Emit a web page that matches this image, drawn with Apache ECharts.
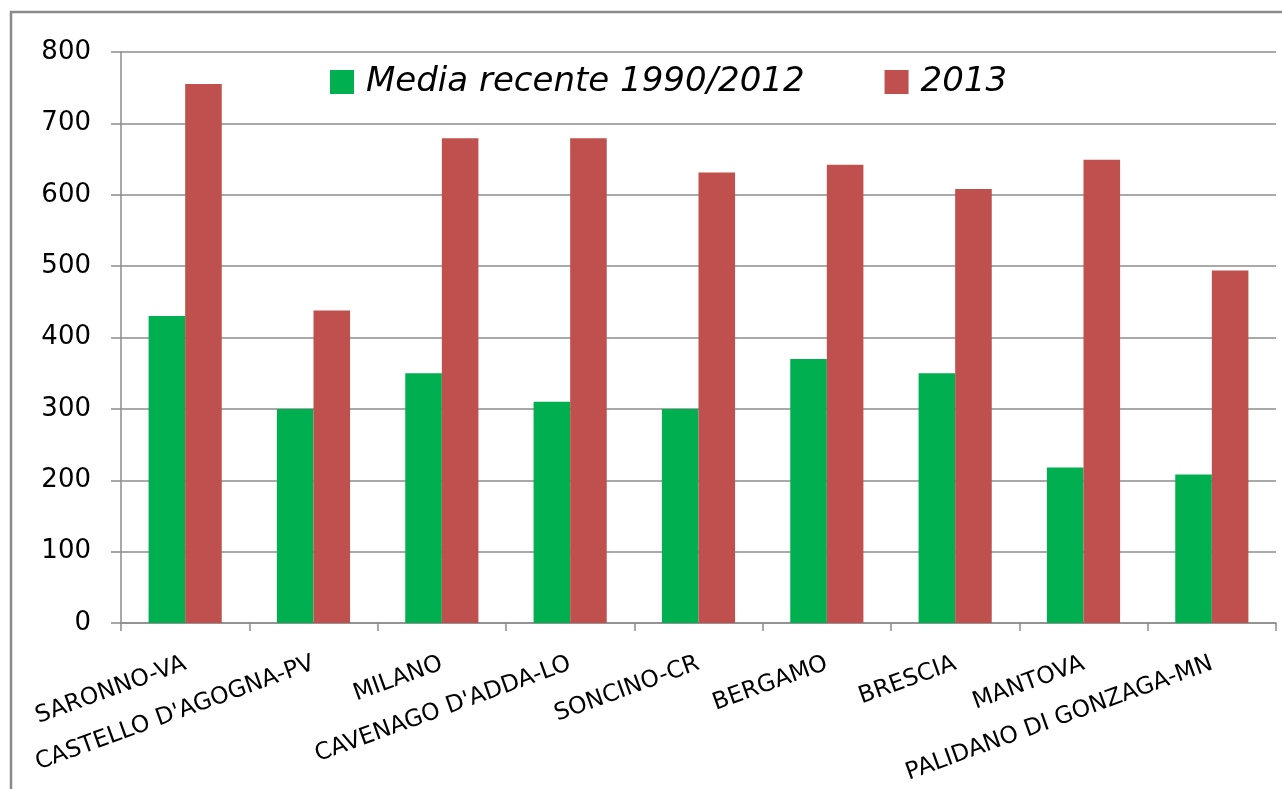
<!DOCTYPE html>
<html>
<head>
<meta charset="utf-8">
<script src="https://cdn.jsdelivr.net/npm/echarts@6/dist/echarts.min.js"></script>
<style>
html,body{margin:0;padding:0;background:#fff;}
#main{width:1282px;height:789px;}
</style>
</head>
<body>
<div id="main"></div>
<script>
const categories = ["SARONNO-VA","CASTELLO D'AGOGNA-PV","MILANO","CAVENAGO D'ADDA-LO","SONCINO-CR","BERGAMO","BRESCIA","MANTOVA","PALIDANO DI GONZAGA-MN"];
const seriesNames = ["Media recente 1990/2012","2013"];
const mediaValues = [430, 300, 350, 310, 300, 370, 350, 218, 208];
const values2013 = [755, 438, 679, 679, 631, 642, 608, 649, 494];

const chart = echarts.init(document.getElementById('main'));
const gray = '#8c8c8c';
chart.setOption({
  backgroundColor: '#ffffff',
  animation: false,
  graphic: [{
    type: 'rect',
    z: -1,
    shape: {x: 11, y: 12, width: 1400, height: 900},
    style: {fill: 'none', stroke: '#8a8a8a', lineWidth: 2.5}
  }],
  legend: {
    data: seriesNames,
    left: 325,
    top: 60,
    itemWidth: 24,
    itemHeight: 24,
    itemGap: 80,
    icon: 'rect',
    textStyle: {fontFamily: 'DejaVu Sans', fontStyle: 'italic', fontSize: 34, color: '#000', padding: [0,0,0,7]}
  },
  grid: {left: 121, right: 6, top: 52, bottom: 166, containLabel: false},
  xAxis: {
    type: 'category',
    data: categories,
    axisLine: {show: true, lineStyle: {color: gray, width: 1.5}},
    axisTick: {show: true, length: 8, interval: 0, lineStyle: {color: gray, width: 1.5}},
    axisLabel: {interval: 0, rotate: 20, margin: 40, fontFamily: 'DejaVu Sans', fontSize: 23.5, color: '#000'}
  },
  yAxis: {
    type: 'value',
    min: 0, max: 800, interval: 100,
    axisLine: {show: true, lineStyle: {color: gray, width: 1.5}},
    axisTick: {show: true, length: 10, lineStyle: {color: gray, width: 1.5}},
    splitLine: {show: true, lineStyle: {color: gray, width: 1.5}},
    axisLabel: {margin: 30, fontFamily: 'DejaVu Sans', fontSize: 26, color: '#000'}
  },
  series: [
    {name: seriesNames[0], type: 'bar', data: mediaValues, barGap: '0%', barCategoryGap: '43%', itemStyle: {color: '#00B050'}},
    {name: seriesNames[1], type: 'bar', data: values2013, barGap: '0%', barCategoryGap: '43%', itemStyle: {color: '#C0504D'}}
  ]
});
</script>
</body>
</html>
